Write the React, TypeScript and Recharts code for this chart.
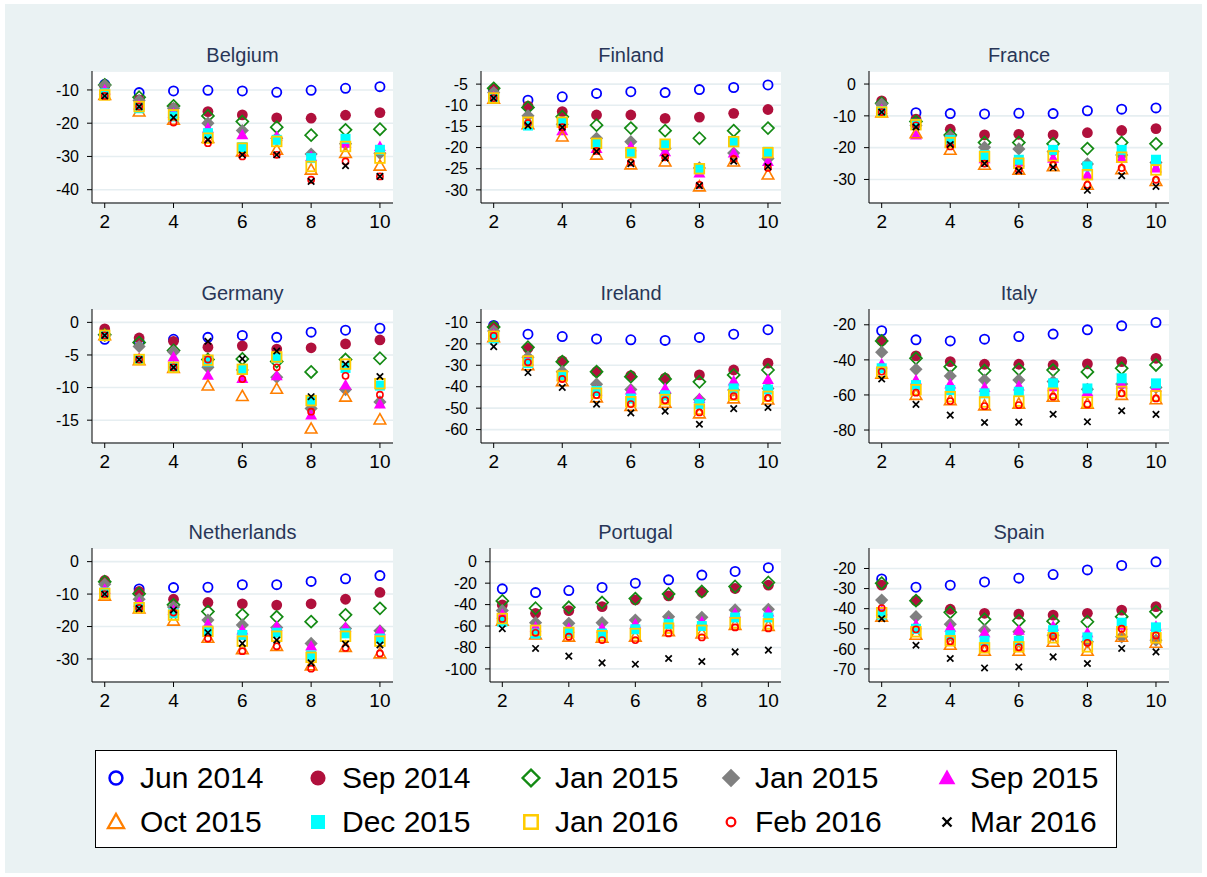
import React from 'react';
import { ScatterChart, Scatter, XAxis, YAxis, CartesianGrid } from 'recharts';

const FONT = '"Liberation Sans", Arial, Helvetica, sans-serif';
const BG = '#eaf2f3';
const GRID = '#e6eef1';
const TITLE_COLOR = '#283657';

const X_VALUES = [2, 3, 4, 5, 6, 7, 8, 9, 10];
const X_TICKS = [2, 4, 6, 8, 10];
const X_DOMAIN = [1.63, 10.38];

const SERIES_NAMES = ['Jun 2014', 'Sep 2014', 'Jan 2015', 'Jan 2015', 'Sep 2015', 'Oct 2015', 'Dec 2015', 'Jan 2016', 'Feb 2016', 'Mar 2016'];
const SERIES_COLORS = ['#0000ff', '#b0103c', '#138a13', '#808080', '#ff00ff', '#ff7f00', '#00ffff', '#ffcc00', '#ff0000', '#000000'];
const SERIES_SYMBOLS = ['Oh', 'O', 'Dh', 'D', 'T', 'Th', 'S', 'Sh', 'oh', 'x'];

// one row per series (same order as SERIES_NAMES), one value per x = 2..10
const BELGIUM = [
  [-8.3, -10.8, -10.3, -10.1, -10.3, -10.7, -10.1, -9.5, -9.0],
  [-8.8, -13.0, -15.5, -16.5, -17.5, -18.4, -18.5, -17.6, -16.8],
  [-8.5, -12.2, -14.8, -17.8, -19.5, -21.2, -23.6, -22.0, -21.8],
  [-8.6, -13.2, -15.5, -20.0, -22.2, -24.5, -29.3, -26.2, -29.0],
  [-10.0, -14.5, -17.0, -21.5, -23.5, -24.0, -30.0, -26.0, -27.0],
  [-11.5, -16.5, -19.0, -24.5, -28.5, -28.0, -34.0, -29.0, -32.8],
  [-11.0, -15.5, -18.0, -23.0, -27.2, -25.0, -30.5, -24.7, -28.0],
  [-11.5, -15.0, -17.5, -24.5, -27.5, -25.5, -33.0, -27.0, -30.5],
  [-11.8, -15.0, -19.8, -26.0, -30.0, -29.5, -37.0, -31.5, -36.0],
  [-11.8, -15.0, -18.3, -25.0, -29.5, -29.5, -37.5, -32.8, -36.0],
];
const FINLAND = [
  [-6.5, -8.8, -8.0, -7.2, -6.8, -7.0, -6.3, -5.8, -5.2],
  [-6.2, -10.2, -11.5, -12.3, -12.3, -13.1, -12.8, -11.9, -11.0],
  [-6.0, -10.5, -12.7, -14.7, -15.4, -16.0, -17.8, -16.0, -15.4],
  [-7.0, -12.5, -14.5, -17.8, -18.6, -20.2, -24.8, -21.3, -22.6],
  [-8.0, -14.5, -16.0, -20.2, -19.8, -21.0, -26.0, -21.3, -23.3],
  [-8.5, -14.5, -17.4, -21.7, -24.0, -23.3, -29.2, -23.3, -26.4],
  [-8.3, -14.8, -13.9, -19.0, -21.2, -19.2, -25.1, -18.6, -21.0],
  [-8.3, -14.0, -14.0, -19.0, -21.2, -19.2, -25.0, -18.6, -21.2],
  [-8.3, -14.2, -15.2, -20.8, -23.5, -22.3, -28.8, -22.7, -24.8],
  [-8.3, -14.8, -15.2, -20.9, -23.8, -22.5, -29.0, -23.2, -24.5],
];
const FRANCE = [
  [-6.2, -9.0, -9.3, -9.4, -9.2, -9.3, -8.4, -7.9, -7.5],
  [-5.3, -11.0, -14.2, -16.0, -15.8, -16.0, -15.3, -14.6, -14.0],
  [-6.0, -11.8, -16.0, -18.4, -18.4, -18.8, -20.3, -18.4, -18.8],
  [-6.3, -13.0, -16.5, -19.9, -20.4, -21.2, -25.1, -22.3, -24.7],
  [-8.0, -16.0, -18.5, -23.5, -24.5, -23.3, -28.5, -23.3, -26.4],
  [-9.0, -15.5, -20.7, -25.4, -27.0, -25.9, -31.7, -26.8, -30.5],
  [-8.5, -12.5, -17.6, -22.3, -23.8, -20.7, -25.9, -20.7, -23.8],
  [-8.8, -12.8, -18.4, -22.8, -24.9, -22.6, -28.5, -23.0, -27.0],
  [-8.8, -13.0, -19.6, -25.0, -27.0, -25.4, -31.7, -26.4, -30.1],
  [-8.8, -13.5, -19.0, -25.0, -27.3, -26.2, -33.4, -28.8, -32.2],
];
const GERMANY = [
  [-2.6, -3.0, -2.6, -2.3, -2.0, -2.3, -1.5, -1.2, -0.9],
  [-1.0, -2.4, -2.9, -3.8, -3.6, -4.1, -3.9, -3.3, -2.7],
  [-1.9, -3.1, -4.3, -5.7, -5.6, -6.0, -7.6, -5.7, -5.5],
  [-2.0, -3.7, -4.5, -6.9, -7.3, -8.4, -13.2, -10.3, -12.2],
  [-2.0, -5.5, -5.3, -8.1, -8.6, -8.2, -14.2, -9.6, -12.5],
  [-2.0, -5.8, -7.0, -9.7, -11.3, -10.2, -16.3, -11.4, -14.9],
  [-2.0, -5.7, -6.8, -6.0, -7.3, -5.5, -11.9, -7.0, -9.7],
  [-2.0, -5.7, -6.9, -5.8, -7.2, -5.3, -12.0, -6.4, -9.4],
  [-2.0, -5.7, -6.9, -5.7, -8.7, -6.9, -13.7, -8.2, -11.1],
  [-2.0, -5.7, -6.9, -2.9, -5.6, -4.4, -11.4, -6.4, -8.3],
];
const IRELAND = [
  [-11.4, -15.5, -16.6, -17.7, -18.1, -18.4, -17.0, -15.5, -13.4],
  [-12.0, -22.0, -28.0, -33.0, -34.8, -36.0, -34.5, -32.2, -29.0],
  [-12.2, -21.6, -28.3, -33.0, -35.3, -36.4, -37.7, -34.5, -32.2],
  [-14.0, -26.2, -33.0, -38.8, -41.3, -43.0, -46.0, -41.5, -40.8],
  [-15.5, -28.0, -35.0, -42.0, -41.5, -40.8, -45.5, -37.3, -36.6],
  [-17.0, -30.0, -37.5, -45.0, -49.0, -47.5, -52.5, -45.5, -46.0],
  [-17.5, -29.0, -35.0, -42.0, -45.5, -44.0, -48.1, -40.8, -41.3],
  [-16.5, -28.0, -35.0, -43.0, -47.0, -46.0, -50.5, -44.0, -44.5],
  [-16.3, -28.6, -36.4, -43.9, -48.1, -46.3, -52.0, -44.4, -45.2],
  [-21.3, -33.4, -40.3, -48.1, -52.2, -51.4, -57.5, -50.2, -49.7],
];
const ITALY = [
  [-23.4, -28.6, -29.2, -28.2, -26.7, -25.3, -22.9, -20.6, -18.7],
  [-29.0, -37.7, -41.0, -42.5, -42.5, -42.9, -42.3, -41.0, -39.1],
  [-29.2, -39.1, -43.9, -46.1, -45.4, -45.8, -46.9, -44.8, -42.9],
  [-35.6, -45.4, -49.2, -51.5, -51.5, -52.4, -56.8, -53.8, -55.7],
  [-42.3, -51.5, -53.8, -55.7, -54.9, -55.3, -58.2, -53.8, -55.7],
  [-48.0, -60.0, -63.0, -66.0, -65.0, -61.0, -65.0, -60.0, -62.5],
  [-44.8, -54.4, -57.2, -59.1, -58.2, -53.4, -56.3, -50.5, -53.4],
  [-47.0, -57.0, -61.0, -64.0, -63.5, -59.0, -64.0, -58.0, -60.5],
  [-46.7, -58.7, -63.5, -66.4, -65.8, -61.0, -65.4, -59.1, -62.0],
  [-50.9, -65.4, -71.5, -75.7, -75.5, -71.0, -75.3, -69.0, -71.1],
];
const NETHERLANDS = [
  [-6.5, -8.4, -8.0, -7.9, -7.1, -7.1, -6.1, -5.3, -4.3],
  [-5.8, -9.2, -11.6, -12.6, -13.0, -13.4, -13.0, -11.6, -9.5],
  [-6.2, -9.9, -13.3, -15.4, -16.4, -17.0, -18.5, -16.4, -14.4],
  [-7.0, -11.6, -14.0, -18.0, -19.5, -20.3, -25.2, -20.6, -21.3],
  [-8.5, -12.5, -15.0, -19.2, -21.1, -19.9, -26.0, -20.3, -21.3],
  [-10.5, -14.5, -18.2, -23.5, -27.0, -26.0, -32.0, -26.3, -28.3],
  [-9.5, -14.0, -15.9, -21.3, -22.6, -21.9, -28.9, -22.1, -23.7],
  [-9.8, -14.2, -16.5, -21.5, -24.5, -23.0, -29.5, -23.0, -24.5],
  [-10.0, -14.3, -15.7, -23.7, -27.6, -26.1, -33.0, -26.6, -28.3],
  [-10.0, -14.5, -14.9, -21.9, -25.2, -24.2, -31.2, -25.4, -25.7],
];
const PORTUGAL = [
  [-25.3, -28.8, -26.9, -24.0, -20.0, -16.9, -12.5, -9.1, -5.6],
  [-40.3, -48.1, -45.6, -41.9, -35.6, -31.9, -28.4, -25.0, -21.9],
  [-36.6, -43.4, -42.5, -38.1, -34.4, -30.0, -27.8, -23.1, -19.4],
  [-45.6, -56.9, -57.5, -56.9, -54.4, -51.3, -51.9, -45.0, -44.4],
  [-49.0, -61.0, -62.0, -62.0, -58.0, -56.0, -56.0, -48.0, -47.0],
  [-55.0, -68.0, -70.0, -71.0, -70.0, -65.0, -67.0, -59.0, -60.0],
  [-56.0, -67.0, -66.0, -67.0, -63.0, -58.0, -60.0, -52.0, -52.0],
  [-53.0, -64.0, -66.0, -69.0, -67.0, -62.0, -64.0, -57.0, -58.0],
  [-53.4, -66.3, -70.0, -73.1, -73.1, -66.9, -70.6, -61.3, -62.2],
  [-62.5, -80.9, -88.1, -94.4, -95.6, -90.3, -93.1, -84.1, -82.5],
];
const SPAIN = [
  [-25.2, -29.3, -28.3, -26.7, -24.8, -23.0, -20.7, -18.5, -16.7],
  [-28.3, -36.0, -40.3, -42.3, -42.7, -43.2, -42.3, -40.7, -39.0],
  [-27.3, -36.0, -41.8, -45.3, -46.0, -46.2, -46.5, -44.0, -41.5],
  [-35.7, -44.0, -47.7, -50.7, -51.5, -53.2, -56.5, -54.0, -55.7],
  [-41.0, -48.0, -49.3, -52.0, -50.7, -48.7, -52.0, -48.2, -48.7],
  [-44.0, -53.0, -58.0, -61.0, -61.0, -56.5, -61.0, -54.0, -57.0],
  [-43.0, -50.0, -53.2, -56.0, -56.0, -50.7, -54.3, -47.0, -49.3],
  [-42.0, -51.5, -56.0, -59.5, -59.0, -54.5, -59.0, -51.5, -54.5],
  [-39.7, -50.3, -56.2, -59.7, -59.2, -53.7, -57.0, -50.0, -53.3],
  [-45.0, -58.2, -64.8, -69.5, -69.0, -64.0, -67.3, -59.8, -61.5],
];

const PANELS = [
  { name: 'Belgium', data: BELGIUM, ticks: [-40, -30, -20, -10], domain: [-44, -4.3], left: 92, top: 71, width: 301, height: 132 },
  { name: 'Finland', data: FINLAND, ticks: [-30, -25, -20, -15, -10, -5], domain: [-33.1, -1.9], left: 481, top: 71, width: 300, height: 132 },
  { name: 'France', data: FRANCE, ticks: [-30, -20, -10, 0], domain: [-37.4, 4.1], left: 869, top: 71, width: 300, height: 132 },
  { name: 'Germany', data: GERMANY, ticks: [-15, -10, -5, 0], domain: [-18.5, 2.05], left: 92, top: 309, width: 301, height: 134 },
  { name: 'Ireland', data: IRELAND, ticks: [-60, -50, -40, -30, -20, -10], domain: [-66.25, -3.75], left: 481, top: 309, width: 300, height: 134 },
  { name: 'Italy', data: ITALY, ticks: [-80, -60, -40, -20], domain: [-87.4, -11], left: 869, top: 309, width: 300, height: 134 },
  { name: 'Netherlands', data: NETHERLANDS, ticks: [-30, -20, -10, 0], domain: [-37.1, 4.2], left: 92, top: 548, width: 301, height: 134 },
  { name: 'Portugal', data: PORTUGAL, ticks: [-100, -80, -60, -40, -20, 0], domain: [-112.2, 12.8], left: 490, top: 548, width: 291, height: 134 },
  { name: 'Spain', data: SPAIN, ticks: [-70, -60, -50, -40, -30, -20], domain: [-76.5, -9.8], left: 869, top: 548, width: 300, height: 134 },
];

function Marker({ kind, color, cx, cy, s = 1 }: { kind: string; color: string; cx: number; cy: number; s?: number }) {
  if (cx == null || cy == null) return null;
  switch (kind) {
    case 'Oh':
      return <circle cx={cx} cy={cy} r={4.6 * s} fill="none" stroke={color} strokeWidth={1.8 * s} />;
    case 'O':
      return <circle cx={cx} cy={cy} r={5.4 * s} fill={color} />;
    case 'Dh': {
      const h = 6 * s;
      return <polygon points={`${cx},${cy - h} ${cx + h},${cy} ${cx},${cy + h} ${cx - h},${cy}`} fill="none" stroke={color} strokeWidth={1.7 * s} />;
    }
    case 'D': {
      const h = 6.6 * s;
      return <polygon points={`${cx},${cy - h} ${cx + h},${cy} ${cx},${cy + h} ${cx - h},${cy}`} fill={color} />;
    }
    case 'T': {
      const w = 6 * s;
      return <polygon points={`${cx},${cy - 6 * s} ${cx + w},${cy + 4.5 * s} ${cx - w},${cy + 4.5 * s}`} fill={color} />;
    }
    case 'Th': {
      const w = 5.8 * s;
      return <polygon points={`${cx},${cy - 5.8 * s} ${cx + w},${cy + 4.4 * s} ${cx - w},${cy + 4.4 * s}`} fill="none" stroke={color} strokeWidth={1.6 * s} strokeLinejoin="miter" />;
    }
    case 'S': {
      const h = 5 * s;
      return <rect x={cx - h} y={cy - h} width={2 * h} height={2 * h} fill={color} />;
    }
    case 'Sh': {
      const h = 4.8 * s;
      return <rect x={cx - h} y={cy - h} width={2 * h} height={2 * h} fill="none" stroke={color} strokeWidth={1.8 * s} />;
    }
    case 'oh':
      return <circle cx={cx} cy={cy} r={3.1 * s} fill="none" stroke={color} strokeWidth={1.6 * s} />;
    case 'x': {
      const h = 3.2 * s;
      return (
        <g stroke={color} strokeWidth={1.7 * s}>
          <line x1={cx - h} y1={cy - h} x2={cx + h} y2={cy + h} />
          <line x1={cx - h} y1={cy + h} x2={cx + h} y2={cy - h} />
        </g>
      );
    }
    default:
      return null;
  }
}

const YW = 70;
const XH = 40;

function Panel({ p }: { p: (typeof PANELS)[number] }) {
  return (
    <>
      <div
        style={{
          position: 'absolute', left: p.left, top: p.top - 30, width: p.width, height: 28,
          textAlign: 'center', fontSize: 20, lineHeight: '28px', color: TITLE_COLOR, fontFamily: FONT,
        }}
      >
        {p.name}
      </div>
      <div style={{ position: 'absolute', left: p.left - YW, top: p.top }}>
        <ScatterChart width={p.width + YW} height={p.height + XH} margin={{ top: 0, right: 0, bottom: 0, left: 0 }}>
          <CartesianGrid vertical={false} fill="#ffffff" stroke={GRID} strokeWidth={1.6} />
          <XAxis
            type="number" dataKey="x" domain={X_DOMAIN} ticks={X_TICKS} allowDataOverflow interval={0}
            height={XH} tickSize={5} tickMargin={7}
            axisLine={{ stroke: '#000' }} tickLine={{ stroke: '#000' }}
            tick={{ fontSize: 19, fill: '#000', fontFamily: FONT }}
          />
          <YAxis
            type="number" dataKey="y" domain={p.domain} ticks={p.ticks} allowDataOverflow interval={0}
            width={YW} tickSize={5} tickMargin={8}
            axisLine={{ stroke: '#000' }} tickLine={{ stroke: '#000' }}
            tick={{ fontSize: 16, fill: '#000', fontFamily: FONT }}
          />
          {p.data.map((vals, i) => (
            <Scatter
              key={i}
              name={SERIES_NAMES[i]}
              data={X_VALUES.map((x, j) => ({ x, y: vals[j] }))}
              dataKey="y"
              isAnimationActive={false}
              shape={(props: any) => (
                <Marker kind={SERIES_SYMBOLS[i]} color={SERIES_COLORS[i]} cx={props.cx} cy={props.cy} />
              )}
            />
          ))}
        </ScatterChart>
      </div>
    </>
  );
}

const LEGEND_MARKER_X = [116, 318, 531, 731, 947];
const LEGEND_TEXT_X = [140, 342, 555, 755, 970];
const LEGEND_ROW_Y = [778, 822];

function Legend() {
  return (
    <>
      <div
        style={{
          position: 'absolute', left: 95, top: 750, width: 1022, height: 98,
          background: '#fff', border: '1px solid #000', boxSizing: 'border-box',
        }}
      />
      {SERIES_NAMES.map((name, i) => {
        const col = i % 5;
        const row = Math.floor(i / 5);
        const mx = LEGEND_MARKER_X[col];
        const my = LEGEND_ROW_Y[row];
        return (
          <React.Fragment key={i}>
            <svg style={{ position: 'absolute', left: mx - 15, top: my - 15 }} width={30} height={30}>
              <Marker kind={SERIES_SYMBOLS[i]} color={SERIES_COLORS[i]} cx={15} cy={15} s={1.4} />
            </svg>
            <div
              style={{
                position: 'absolute', left: LEGEND_TEXT_X[col], top: my - 18, height: 36,
                lineHeight: '36px', fontSize: 30, fontFamily: FONT, color: '#000', whiteSpace: 'nowrap',
              }}
            >
              {name}
            </div>
          </React.Fragment>
        );
      })}
    </>
  );
}

export default function App() {
  return (
    <div style={{ position: 'absolute', left: 0, top: 0, width: 1207, height: 877, background: '#fff', fontFamily: FONT }}>
      <div style={{ position: 'absolute', left: 5, top: 4, width: 1197, height: 869, background: BG }} />
      {PANELS.map((p) => (
        <Panel key={p.name} p={p} />
      ))}
      <Legend />
    </div>
  );
}
